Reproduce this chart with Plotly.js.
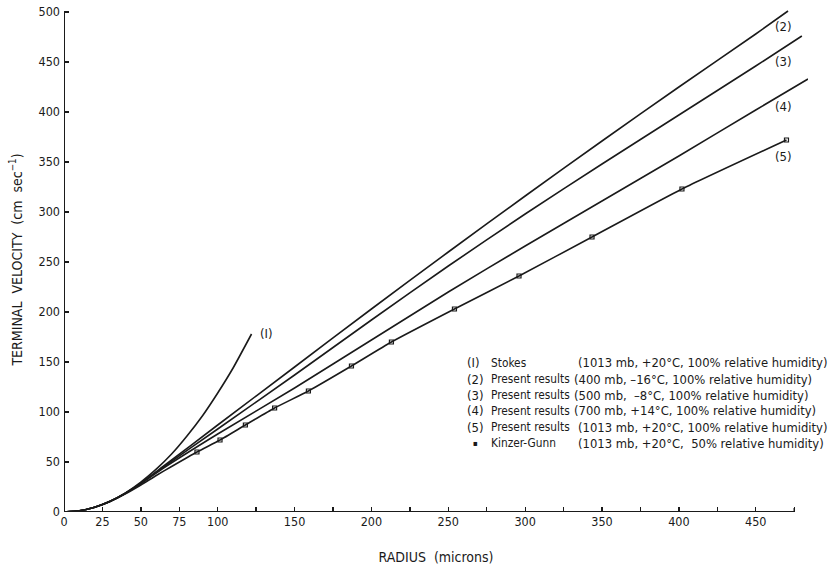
<!DOCTYPE html>
<html>
<head>
<meta charset="utf-8">
<script src="https://cdn.plot.ly/plotly-3.0.1.min.js"></script>
<style>html,body{margin:0;padding:0;background:#fff;}#chart{width:828px;height:565px;}</style>
</head>
<body>
<div id="chart"></div>
<script>
// ---- data (radius in microns, terminal velocity in cm/s) ----
const stokesR = [0, 10, 20, 30, 40, 50, 60, 70, 80, 90, 100, 110, 122];
const stokesV = [0, 1.2, 4.8, 10.7, 19, 29.8, 42.8, 58, 76, 96, 119, 144, 178];

const line2R = [0, 10, 20, 30, 40, 50, 64, 100, 150, 200, 250, 300, 350, 400, 450, 471];
const line2V = [0, 1.2, 4.8, 10.7, 18.9, 28.8, 45, 87, 145, 203, 260, 316, 371, 425, 478, 501];

const line3R = [0, 10, 20, 30, 40, 50, 64, 100, 150, 200, 250, 300, 350, 400, 450, 480];
const line3V = [0, 1.2, 4.8, 10.7, 18.8, 28.6, 44.2, 83, 137, 192, 246, 298, 348, 397, 446, 476];

const line4R = [0, 10, 20, 30, 40, 50, 64, 100, 150, 200, 250, 300, 350, 400, 450, 484];
const line4V = [0, 1.2, 4.8, 10.6, 18.6, 28.3, 43.2, 78, 124, 172, 220, 266, 311, 356, 402, 433];

const line5R = [0, 10, 20, 30, 40, 50, 60, 70, 86.5, 101.5, 118, 137, 159, 187, 213, 254, 296, 343.5, 402, 470];
const line5V = [0, 1.2, 4.8, 10.5, 18.2, 27, 36.5, 45.5, 60, 72, 87, 104, 121, 146, 170, 203, 236, 275, 323, 372];

const kgR = [86.5, 101.5, 118, 137, 159, 187, 213, 254, 296, 343.5, 402, 470];
const kgV = [60, 72, 87, 104, 121, 146, 170, 203, 236, 275, 323, 372];

const xTickVals = [0, 25, 50, 75, 100, 150, 200, 250, 300, 350, 400, 450];
const xTickText = ['0', '25', '50', '75', '100', '150', '200', '250', '300', '350', '400', '450'];
const yTickVals = [0, 50, 100, 150, 200, 250, 300, 350, 400, 450, 500];

const curveLabels = ['(I)', '(2)', '(3)', '(4)', '(5)'];
const legendNums = ['(I)', '(2)', '(3)', '(4)', '(5)', '\u25AA'];
const legendNames = ['Stokes', 'Present results', 'Present results', 'Present results', 'Present results', 'Kinzer-Gunn'];
const legendConds = [
  '(1013 mb, +20\u00B0C, 100% relative humidity)',
  '(400 mb, \u201316\u00B0C, 100% relative humidity)',
  '(500 mb,  \u20138\u00B0C, 100% relative humidity)',
  '(700 mb, +14\u00B0C, 100% relative humidity)',
  '(1013 mb, +20\u00B0C, 100% relative humidity)',
  '(1013 mb, +20\u00B0C,  50% relative humidity)'
];

// ---- styling / layout ----
const FONT = 'DejaVu Sans Condensed, Liberation Sans Narrow, DejaVu Sans, sans-serif';
const INK = '#1a1a1a';
const lineStyle = {color: INK, width: 1.6, shape: 'spline', smoothing: 0.5};

const traces = [
  {x: stokesR, y: stokesV, mode: 'lines', line: lineStyle, hoverinfo: 'skip'},
  {x: line2R, y: line2V, mode: 'lines', line: lineStyle, hoverinfo: 'skip'},
  {x: line3R, y: line3V, mode: 'lines', line: lineStyle, hoverinfo: 'skip'},
  {x: line4R, y: line4V, mode: 'lines', line: lineStyle, hoverinfo: 'skip'},
  {x: line5R, y: line5V, mode: 'lines', line: lineStyle, hoverinfo: 'skip'},
  {x: kgR, y: kgV, mode: 'markers', marker: {symbol: 'square-open', size: 4, color: INK, line: {width: 1.2, color: INK}}, hoverinfo: 'skip'}
];

// label positions (data coordinates)
const curveLabelPos = [[126, 179], [461, 486], [461, 451], [461, 406], [461, 356]];

const annotations = [];
curveLabels.forEach((t, i) => {
  annotations.push({x: curveLabelPos[i][0], y: curveLabelPos[i][1], xref: 'x', yref: 'y', text: t,
    showarrow: false, xanchor: 'left', yanchor: 'middle', font: {family: FONT, size: 13, color: INK}});
});
const rowY = [149.3, 132.7, 117, 101.3, 84.7, 68.7];
const condX = [333.0, 330.6, 330.6, 330.6, 333.0, 333.0];
const numSize = [13, 13, 13, 13, 13, 8];
legendNums.forEach((t, i) => {
  annotations.push({x: i === 5 ? 265 : 261, y: rowY[i], xref: 'x', yref: 'y', text: t, showarrow: false,
    xanchor: 'left', yanchor: 'middle', font: {family: FONT, size: numSize[i], color: INK}});
  annotations.push({x: 276.5, y: rowY[i], xref: 'x', yref: 'y', text: legendNames[i], showarrow: false,
    xanchor: 'left', yanchor: 'middle', font: {family: FONT, size: 11.8, color: INK}});
  annotations.push({x: condX[i], y: rowY[i], xref: 'x', yref: 'y', text: legendConds[i], showarrow: false,
    xanchor: 'left', yanchor: 'middle', font: {family: FONT, size: 12.9, color: INK}});
});

const layout = {
  width: 828, height: 565,
  margin: {l: 64, r: 20, t: 7, b: 53},
  paper_bgcolor: '#ffffff', plot_bgcolor: '#ffffff',
  showlegend: false,
  font: {family: FONT, color: INK},
  xaxis: {
    range: [0, 484], tickmode: 'array', tickvals: xTickVals, ticktext: xTickText,
    ticks: 'inside', ticklen: 5, tickwidth: 1.3, tickcolor: INK,
    minor: {tick0: 0, dtick: 25, ticks: 'inside', ticklen: 5, tickwidth: 1.3, tickcolor: INK, showgrid: false},
    showline: false, showgrid: false, zeroline: false,
    tickfont: {family: FONT, size: 12.5, color: INK},
    title: {text: 'RADIUS  (microns)', font: {family: FONT, size: 14, color: INK}, standoff: 24}
  },
  yaxis: {
    range: [0, 505], tickmode: 'array', tickvals: yTickVals,
    ticks: 'inside', ticklen: 5, tickwidth: 1.3, tickcolor: INK,
    ticklabelstandoff: 3,
    showline: false, showgrid: false, zeroline: false,
    tickfont: {family: FONT, size: 12.5, color: INK},
    title: {text: 'TERMINAL  VELOCITY  (cm  sec<sup>\u22121</sup>)', font: {family: FONT, size: 14, color: INK}, standoff: 12}
  },
  shapes: [
    {type: 'line', xref: 'x', yref: 'y', x0: 0, x1: 475, y0: 0, y1: 0, line: {color: INK, width: 2}},
    {type: 'line', xref: 'x', yref: 'y', x0: 0, x1: 0, y0: 0, y1: 500, line: {color: INK, width: 2}},
    {type: 'line', xref: 'x', yref: 'y', x0: 475, x1: 475, y0: 0, y1: 4, line: {color: INK, width: 1.3}}
  ],
  annotations: annotations
};

Plotly.newPlot('chart', traces, layout, {displayModeBar: false, staticPlot: true});
</script>
</body>
</html>
